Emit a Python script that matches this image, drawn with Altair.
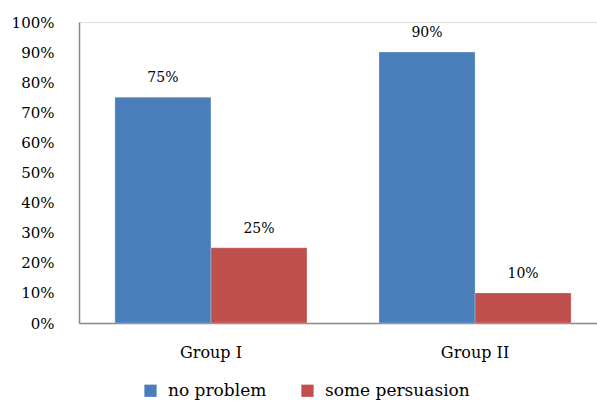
import altair as alt
import pandas as pd

groups = ["Group I", "Group I", "Group II", "Group II"]
series = ["no problem", "some persuasion", "no problem", "some persuasion"]
values = [0.75, 0.25, 0.90, 0.10]
labels = ["75%", "25%", "90%", "10%"]
y_ticks = [0.0, 0.1, 0.2, 0.3, 0.4, 0.5, 0.6, 0.7, 0.8, 0.9, 1.0]

df = pd.DataFrame({"group": groups, "series": series, "value": values, "label": labels})

FONT = "DejaVu Serif"
colors = alt.Scale(domain=["no problem", "some persuasion"], range=["#4A7EBB", "#C0504D"])

x = alt.X("group:N", title=None,
          scale=alt.Scale(range=[0, 528], paddingInner=0.2727, paddingOuter=0.136),
          axis=alt.Axis(labelAngle=0, labelFont=FONT, labelFontSize=16, labelColor="#000000",
                        labelPadding=21, ticks=False, domainColor="#888888", domainWidth=1.5))
xo = alt.XOffset("series:N", scale=alt.Scale(paddingInner=0, paddingOuter=0))
y = alt.Y("value:Q", title=None,
          scale=alt.Scale(domain=[0, 1], nice=False),
          axis=alt.Axis(format="%", values=y_ticks, tickCount=11, labelFont=FONT, labelOverlap=False,
                        labelFontSize=15, labelColor="#000000", labelPadding=25, ticks=False,
                        grid=False, domainColor="#888888", domainWidth=1.5))

base = alt.Chart(df).encode(x=x, xOffset=xo, y=y)

bars = base.mark_bar(stroke="#ffffff", strokeWidth=0.4, strokeOpacity=0.6).encode(
    color=alt.Color("series:N", scale=colors, title=None,
                    legend=alt.Legend(orient="none", direction="horizontal", legendX=63, legendY=360,
                                      symbolType="square", symbolSize=150, symbolStrokeWidth=0,
                                      labelFont=FONT, labelFontSize=17, labelColor="#000000",
                                      labelOffset=9, columnPadding=32)),
)

text = base.mark_text(font=FONT, fontSize=14, color="#000000", dy=-19, baseline="middle").encode(
    text="label:N",
)

chart = (bars + text).properties(
    width=518, height=301,
    autosize=alt.AutoSizeParams(type="none"),
    padding={"left": 79, "top": 22, "right": 0, "bottom": 79},
).configure_view(stroke=None).configure(background="#ffffff")

chart.save("out.html", embed_options={"renderer": "svg", "actions": False})
